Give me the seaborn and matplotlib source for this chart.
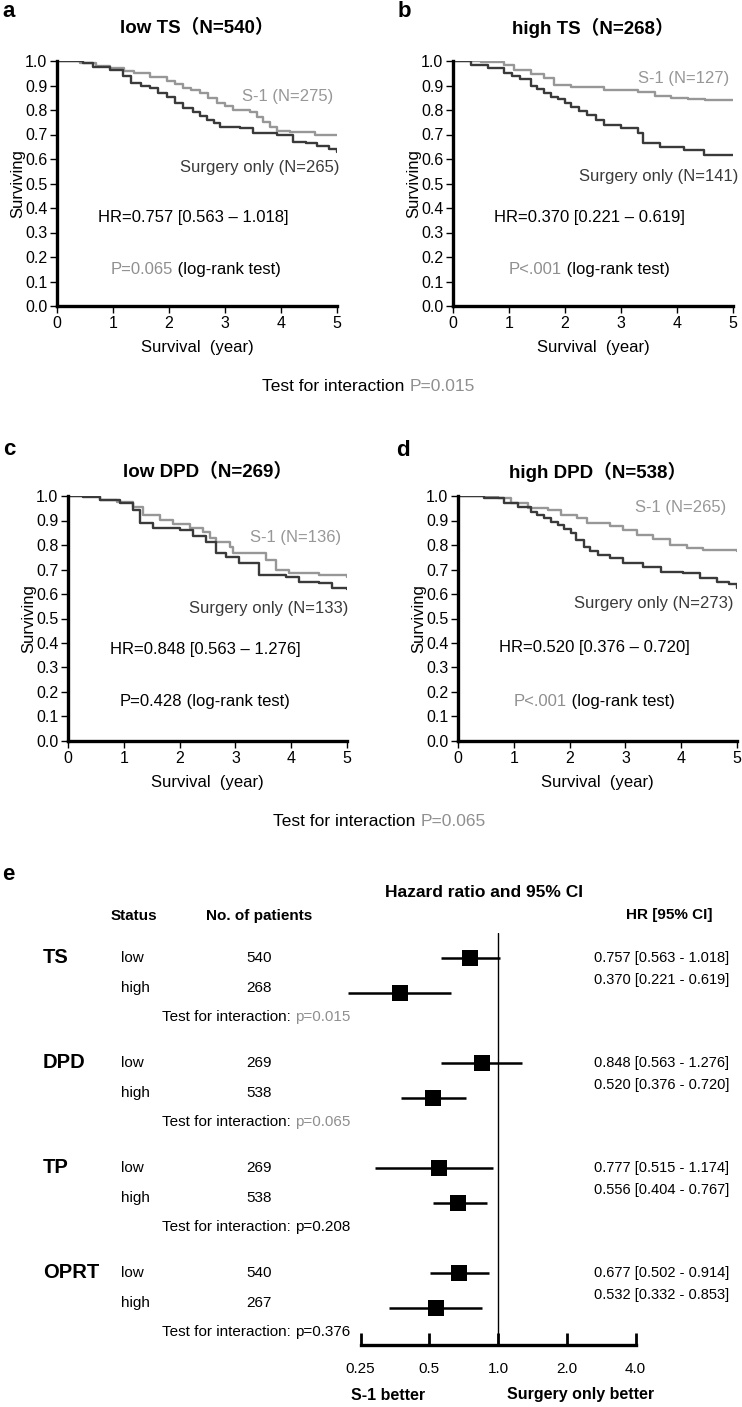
import numpy as np
import pandas as pd
import matplotlib
matplotlib.use('Agg')
import matplotlib.pyplot as plt
import matplotlib.transforms as mtrans
from matplotlib.ticker import NullLocator
import seaborn as sns

sns.set_style('white', rc={'axes.edgecolor': 'black', 'text.color': 'black',
                           'xtick.color': 'black', 'ytick.color': 'black',
                           'axes.labelcolor': 'black'})
plt.rcParams['font.family'] = ['Liberation Sans', 'Noto Sans CJK JP', 'DejaVu Sans']

GRAY = '#979797'   # S-1 curve
DARK = '#3a3a3a'   # surgery only curve
PGRAY = '#8f8f8f'  # grey p-values

# ---- Kaplan-Meier curves (year, surviving) ----
a_s1_t = [0, 0.41, 0.7, 0.95, 1.2, 1.37, 1.66, 1.96, 2.1, 2.25, 2.4, 2.55, 2.7, 2.86, 3.0, 3.15, 3.45, 3.58, 3.68, 3.8, 3.93, 4.16, 4.6, 5.0]
a_s1_s = [1.0, 0.99, 0.98, 0.97, 0.96, 0.95, 0.935, 0.92, 0.905, 0.89, 0.88, 0.87, 0.85, 0.83, 0.815, 0.80, 0.79, 0.77, 0.75, 0.73, 0.715, 0.71, 0.70, 0.70]
a_so_t = [0, 0.47, 0.64, 0.95, 1.18, 1.33, 1.5, 1.66, 1.8, 1.96, 2.1, 2.25, 2.43, 2.55, 2.68, 2.8, 2.91, 3.27, 3.5, 3.93, 4.21, 4.45, 4.64, 4.85, 5.0]
a_so_s = [1.0, 0.99, 0.975, 0.963, 0.94, 0.91, 0.90, 0.89, 0.87, 0.855, 0.83, 0.81, 0.79, 0.775, 0.76, 0.745, 0.73, 0.725, 0.705, 0.70, 0.67, 0.665, 0.655, 0.64, 0.63]

b_s1_t = [0, 0.5, 0.91, 1.09, 1.39, 1.63, 1.8, 2.1, 2.7, 3.3, 3.6, 3.9, 4.2, 4.5, 5.0]
b_s1_s = [1.0, 0.996, 0.985, 0.963, 0.947, 0.93, 0.902, 0.893, 0.882, 0.875, 0.857, 0.849, 0.845, 0.84, 0.84]
b_so_t = [0, 0.32, 0.62, 0.91, 1.05, 1.2, 1.39, 1.5, 1.63, 1.75, 1.87, 2.0, 2.1, 2.25, 2.4, 2.55, 2.7, 3.0, 3.3, 3.39, 3.7, 4.13, 4.48, 5.0]
b_so_s = [1.0, 0.984, 0.97, 0.95, 0.94, 0.925, 0.90, 0.885, 0.868, 0.855, 0.844, 0.83, 0.814, 0.795, 0.78, 0.76, 0.739, 0.725, 0.705, 0.664, 0.65, 0.635, 0.617, 0.617]

c_s1_t = [0, 0.57, 0.87, 1.17, 1.35, 1.64, 1.88, 2.18, 2.42, 2.55, 2.66, 2.9, 2.95, 3.55, 3.73, 3.96, 4.5, 5.0]
c_s1_s = [1.0, 0.984, 0.976, 0.955, 0.922, 0.902, 0.886, 0.869, 0.853, 0.83, 0.812, 0.792, 0.767, 0.739, 0.698, 0.685, 0.678, 0.668]
c_so_t = [0, 0.27, 0.57, 0.93, 1.17, 1.29, 1.52, 2.0, 2.24, 2.48, 2.66, 2.83, 3.07, 3.43, 3.9, 4.14, 4.5, 4.73, 5.0]
c_so_s = [1.0, 0.997, 0.985, 0.97, 0.943, 0.889, 0.871, 0.861, 0.837, 0.813, 0.767, 0.751, 0.726, 0.677, 0.67, 0.65, 0.644, 0.624, 0.62]

d_s1_t = [0, 0.71, 0.95, 1.25, 1.61, 1.84, 2.14, 2.32, 2.73, 2.96, 3.21, 3.5, 3.8, 4.1, 4.39, 5.0]
d_s1_s = [1.0, 0.99, 0.97, 0.951, 0.943, 0.922, 0.909, 0.89, 0.878, 0.861, 0.841, 0.824, 0.80, 0.788, 0.78, 0.776]
d_so_t = [0, 0.46, 0.82, 1.07, 1.3, 1.42, 1.54, 1.67, 1.79, 1.9, 2.02, 2.12, 2.25, 2.37, 2.5, 2.73, 2.96, 3.32, 3.63, 4.04, 4.34, 4.64, 4.85, 5.0]
d_so_s = [1.0, 0.99, 0.97, 0.955, 0.935, 0.922, 0.909, 0.895, 0.882, 0.865, 0.848, 0.82, 0.792, 0.775, 0.759, 0.746, 0.726, 0.71, 0.69, 0.685, 0.665, 0.65, 0.64, 0.626]

km_titles = ['low TS（N=540）', 'high TS（N=268）', 'low DPD（N=269）', 'high DPD（N=538）']
s1_labels = ['S-1 (N=275)', 'S-1 (N=127)', 'S-1 (N=136)', 'S-1 (N=265)']
so_labels = ['Surgery only (N=265)', 'Surgery only (N=141)', 'Surgery only (N=133)', 'Surgery only (N=273)']
hr_texts = ['HR=0.757 [0.563 – 1.018]', 'HR=0.370 [0.221 – 0.619]',
            'HR=0.848 [0.563 – 1.276]', 'HR=0.520 [0.376 – 0.720]']
p_texts = ['P=0.065', 'P<.001', 'P=0.428', 'P<.001']
p_gray = [True, True, False, True]

# ---- forest plot ----
factors = ['TS', 'DPD', 'TP', 'OPRT']
status = ['low', 'high']
n_pat = [540, 268, 269, 538, 269, 538, 540, 267]
hr_val = [0.757, 0.370, 0.848, 0.520, 0.55, 0.67, 0.677, 0.532]
ci_lo = [0.563, 0.221, 0.563, 0.376, 0.29, 0.52, 0.502, 0.332]
ci_hi = [1.018, 0.619, 1.276, 0.720, 0.95, 0.89, 0.914, 0.853]
hr_labels = ['0.757 [0.563 - 1.018]', '0.370 [0.221 - 0.619]',
             '0.848 [0.563 - 1.276]', '0.520 [0.376 - 0.720]',
             '0.777 [0.515 - 1.174]', '0.556 [0.404 - 0.767]',
             '0.677 [0.502 - 0.914]', '0.532 [0.332 - 0.853]']
p_inter = ['p=0.015', 'p=0.065', 'p=0.208', 'p=0.376']
p_inter_gray = [True, True, False, False]

W, H = 742, 1407
fig = plt.figure(figsize=(W / 100, H / 100), dpi=100)


def px_box(left, top, right, bottom):
    return [left / W, 1 - bottom / H, (right - left) / W, (bottom - top) / H]


def two_tone(ax, x, y, first, second, c1, c2, size, transform=None):
    t = ax.text(x, y, first, color=c1, fontsize=size, va='center',
                transform=transform if transform is not None else ax.transData)
    ax.annotate(second, xy=(1, 0), xycoords=t, va='bottom', ha='left',
                color=c2, fontsize=size)
    return t


curves = [(a_s1_t, a_s1_s, a_so_t, a_so_s), (b_s1_t, b_s1_s, b_so_t, b_so_s),
          (c_s1_t, c_s1_s, c_so_t, c_so_s), (d_s1_t, d_s1_s, d_so_t, d_so_s)]
boxes = [px_box(57, 61, 337, 306), px_box(453, 61, 733, 306),
         px_box(68, 496, 347, 741), px_box(458, 496, 737, 741)]
s1_pos = [(4.93, 0.857), (4.93, 0.93), (4.9, 0.83), (4.8, 0.955)]
so_pos = [(5.05, 0.567), (5.09, 0.53), (5.02, 0.54), (4.93, 0.56)]
hr_pos = [(0.73, 0.36), (0.73, 0.36), (0.75, 0.375), (0.73, 0.38)]
p_pos = [(0.95, 0.151), (1.0, 0.151), (0.93, 0.16), (1.0, 0.16)]
title_y = [1.135, 1.135, 1.098, 1.098]

km_axes = []
for i in range(4):
    ax = fig.add_axes(boxes[i])
    km_axes.append(ax)
    t1, s1, t2, s2 = curves[i]
    df = pd.concat([
        pd.DataFrame({'year': t1, 'surv': s1, 'arm': 'S-1'}),
        pd.DataFrame({'year': t2, 'surv': s2, 'arm': 'Surgery only'}),
    ])
    sns.lineplot(data=df, x='year', y='surv', hue='arm', estimator=None,
                 palette={'S-1': GRAY, 'Surgery only': DARK},
                 drawstyle='steps-post', linewidth=1.7, legend=False, ax=ax,
                 sort=False)
    ax.set_xlim(0, 5)
    ax.set_ylim(0, 1)
    ax.set_xticks(range(6))
    ax.set_yticks(np.round(np.arange(0, 1.01, 0.1), 1))
    ax.set_yticklabels([f'{v:.1f}' for v in np.arange(0, 1.01, 0.1)])
    ax.tick_params(direction='out', length=5, width=1, labelsize=11.5,
                   bottom=True, left=True, pad=2)
    sns.despine(ax=ax)
    for sp in ['left', 'bottom']:
        ax.spines[sp].set_linewidth(2.4)
    ax.set_xlabel('Survival  (year)', fontsize=12, labelpad=7)
    ax.set_ylabel('Surviving', fontsize=12, labelpad=0)
    ax.text(0.5, title_y[i], km_titles[i], transform=ax.transAxes, ha='center',
            va='center', fontsize=13.5, fontweight='bold')
    ax.text(*s1_pos[i], s1_labels[i], ha='right', va='center', fontsize=12, color=GRAY)
    ax.text(*so_pos[i], so_labels[i], ha='right', va='center', fontsize=12, color=DARK)
    ax.text(*hr_pos[i], hr_texts[i], ha='left', va='center', fontsize=12)
    two_tone(ax, p_pos[i][0], p_pos[i][1], p_texts[i], ' (log-rank test)',
             PGRAY if p_gray[i] else 'black', 'black', 12)

# panel letters
for letter, x, y in [('a', 2, 17), ('b', 398, 17), ('c', 3, 455), ('d', 396, 456), ('e', 2, 880)]:
    fig.text(x / W, 1 - y / H, letter, fontsize=16, fontweight='bold', va='baseline')

# interaction lines under KM rows
two_tone(km_axes[0], 262 / W, 1 - 387 / H, 'Test for interaction ', 'P=0.015',
         'black', PGRAY, 12.5, transform=fig.transFigure)
two_tone(km_axes[2], 273 / W, 1 - 822 / H, 'Test for interaction ', 'P=0.065',
         'black', PGRAY, 12.5, transform=fig.transFigure)

# ---- forest plot ----
fax = fig.add_axes(px_box(338.5, 933, 645, 1345))
rows = []
for g in range(4):
    rows += [g * 3, g * 3 + 1]
fdf = pd.DataFrame({'hr': hr_val, 'row': rows})
fax.hlines(rows, ci_lo, ci_hi, color='black', linewidth=1.8, clip_on=False)
sns.scatterplot(data=fdf, x='hr', y='row', marker='s', s=120, color='black',
                linewidth=0, ax=fax, clip_on=False, zorder=3)
fax.axvline(1.0, color='black', linewidth=1.0)
fax.set_xscale('log', base=2)
fax.set_xlim(0.2, 4.4)
fax.set_ylim(11.06, -0.71)
fax.set_xticks([0.25, 0.5, 1, 2, 4])
fax.set_xticklabels(['0.25', '0.5', '1.0', '2.0', '4.0'])
fax.xaxis.set_minor_locator(NullLocator())
fax.set_yticks([])
fax.set_xlabel('')
fax.set_ylabel('')
for sp in ['left', 'top', 'right']:
    fax.spines[sp].set_visible(False)
fax.spines['bottom'].set_linewidth(2.4)
fax.spines['bottom'].set_bounds(0.25, 4)
fax.tick_params(axis='x', direction='in', length=9, width=2, labelsize=11,
                bottom=True, pad=12)

tr = mtrans.blended_transform_factory(fig.transFigure, fax.transData)
fax.text(134 / W, -1.2, 'Status', transform=tr, ha='center', va='center',
         fontsize=11, fontweight='bold')
fax.text(259 / W, -1.2, 'No. of patients', transform=tr, ha='center', va='center',
         fontsize=11, fontweight='bold')
fax.text(484 / W, -1.86, 'Hazard ratio and 95% CI', transform=tr, ha='center',
         va='center', fontsize=12.5, fontweight='bold')
fax.text(669 / W, -1.23, 'HR [95% CI]', transform=tr, ha='center', va='center',
         fontsize=11, fontweight='bold')

for g, name in enumerate(factors):
    base = g * 3
    fax.text(43 / W, base, name, transform=tr, ha='left', va='center',
             fontsize=14.5, fontweight='bold')
    for k in range(2):
        idx = g * 2 + k
        yy = base + (0 if k == 0 else 0.87)
        fax.text(121 / W, yy, status[k], transform=tr, ha='left', va='center', fontsize=11)
        fax.text(259 / W, yy, str(n_pat[idx]), transform=tr, ha='center', va='center', fontsize=11)
        fax.text(594 / W, base + (0 if k == 0 else 0.62), hr_labels[idx], transform=tr,
                 ha='left', va='center', fontsize=10.5)
    two_tone(fax, 162 / W, base + 1.68, 'Test for interaction: ', p_inter[g],
             'black', PGRAY if p_inter_gray[g] else 'black', 11, transform=tr)

fig.text(388 / W, 1 - 1395 / H, 'S-1 better', ha='center', va='center',
         fontsize=11.5, fontweight='bold')
fig.text(581 / W, 1 - 1395 / H, 'Surgery only better', ha='center', va='center',
         fontsize=11.5, fontweight='bold')

fig.savefig('out.png', dpi=100)
